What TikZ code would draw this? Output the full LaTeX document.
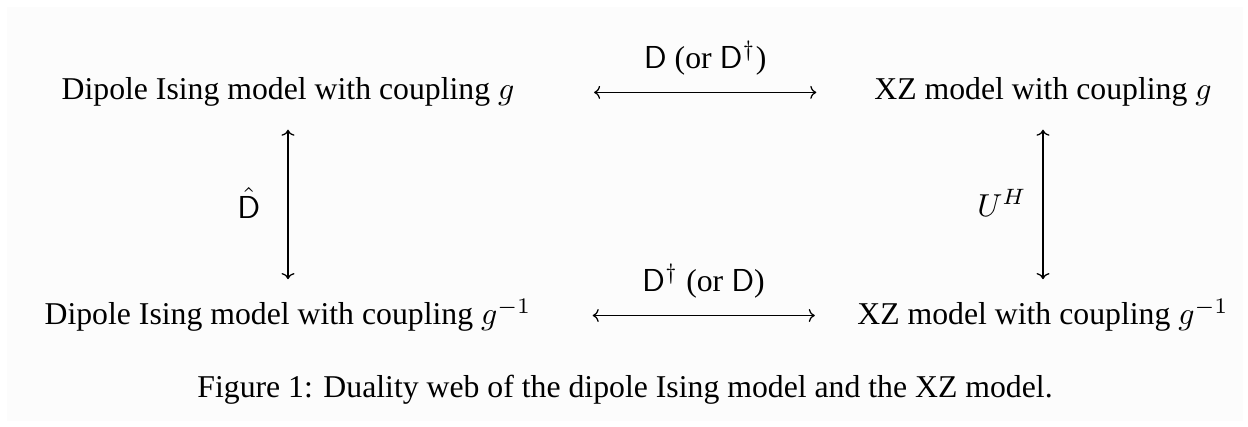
\documentclass[tikz,border=0pt]{standalone}
\usepackage[no-math]{fontspec}
\setmainfont{Liberation Serif}
\usetikzlibrary{positioning,arrows.meta}
\definecolor{dwpaper}{HTML}{FCFCFC}

\begin{document}
\begin{tikzpicture}[font=\fontsize{10}{12}\selectfont,x=0.315pt,y=-0.315pt,
    >={Computer Modern Rightarrow[length=1.9pt,width=4.1pt]}]
  \useasboundingbox (0,0) rectangle (1248,427);
  \fill[dwpaper] (7,7) rectangle (1243,421);
  \foreach \n/\px/\py/\t in {
      dipg/288/100/{Dipole Ising model with coupling $g$},
      xzg/1043/100/{XZ model with coupling $g$},
      dipinv/288/325/{Dipole Ising model with coupling $g^{-1}$},
      xzinv/1043/325/{XZ model with coupling $g^{-1}$}} {
    \node[anchor=base,inner sep=0pt] (\n) at (\px,\py) {\t};
  }
  \draw[<->,shorten <=24.9pt,shorten >=18.1pt] (dipg) -- (xzg)
    node[pos=0.53,above=2pt] (dtop) {$\mathsf{D}$ (or $\mathsf{D}^\dagger$)};
  \draw[<->,shorten <=19.1pt,shorten >=13.2pt] (dipinv) -- (xzinv)
    node[pos=0.528,above=2pt] (dbot) {$\mathsf{D}^\dagger$ (or $\mathsf{D}$)};
  \draw[<->,shorten <=7pt,shorten >=6.1pt] (dipg) -- (dipinv)
    node[midway,left=8.5pt,inner sep=0pt] (dhat) {$\hat{\mathsf{D}}$};
  \draw[<->,shorten <=7pt,shorten >=6.1pt] (xzg) -- (xzinv)
    node[midway,left=5pt,inner sep=0pt] (uh) {$U^H$};
  \node[anchor=base] (caption) at (625,398) {Figure 1: Duality web of the dipole Ising model and the XZ model.};
\end{tikzpicture}
\end{document}
